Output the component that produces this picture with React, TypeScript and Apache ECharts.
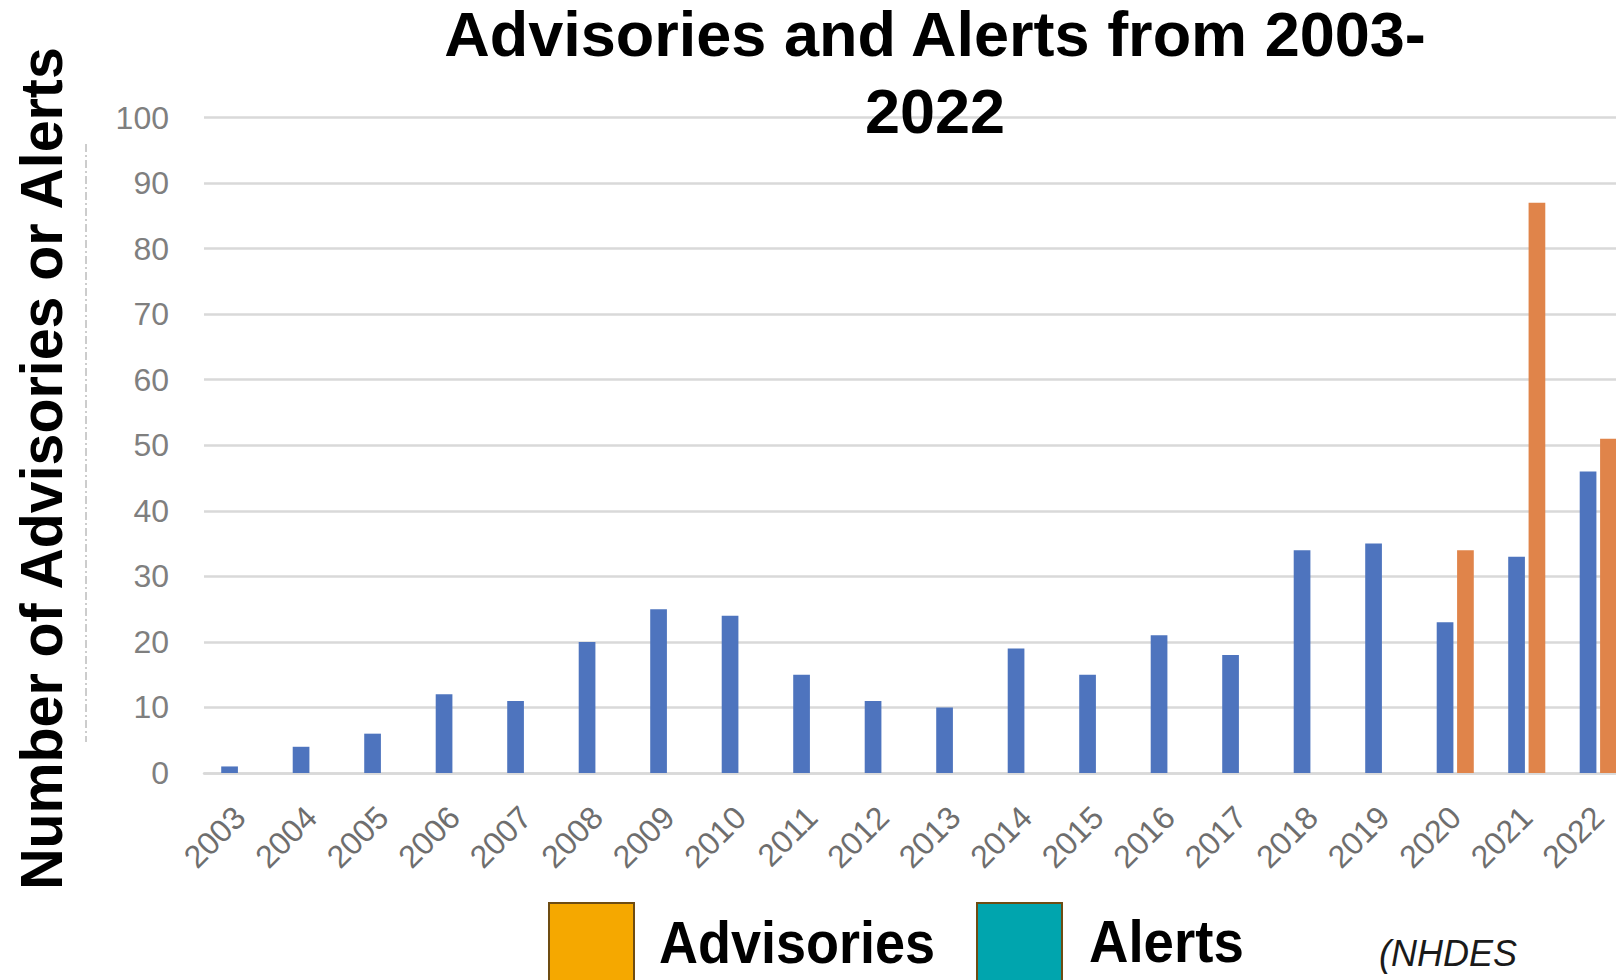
import React, { useEffect, useRef } from "react";
import * as echarts from "echarts";

const years = ["2003","2004","2005","2006","2007","2008","2009","2010","2011","2012","2013","2014","2015","2016","2017","2018","2019","2020","2021","2022"];
const advisories = [1, 4, 6, 12, 11, 20, 25, 24, 15, 11, 10, 19, 15, 21, 18, 34, 35, 23, 33, 46];
const alerts = [null, null, null, null, null, null, null, null, null, null, null, null, null, null, null, null, null, 34, 87, 51];
const yTicks = { min: 0, max: 100, interval: 10 };
const titleLines = ["Advisories and Alerts from 2003-", "2022"];
const yTitle = "Number of Advisories or Alerts";
const legendItems = ["Advisories", "Alerts"];
const sourceNote = "(NHDES";

const FONT = "'Liberation Sans', Arial, sans-serif";

export default function App() {
  const ref = useRef<HTMLDivElement>(null);
  useEffect(() => {
    if (!ref.current) return;
    const chart = echarts.init(ref.current, null, { renderer: "svg" });
    const textEl = (text: string, x: number, y: number, size: number, opts: any = {}) => ({
      type: "text",
      x,
      y,
      rotation: opts.rotation || 0,
      scaleX: opts.scaleX || 1,
      scaleY: 1,
      z: 100,
      style: {
        text,
        fontSize: size,
        fontWeight: opts.weight || "bold",
        fontStyle: opts.style || "normal",
        fontFamily: FONT,
        fill: opts.color || "#000",
        align: opts.align || "center",
        verticalAlign: "middle",
      },
    });
    chart.setOption({
      animation: false,
      backgroundColor: "#fff",
      grid: { left: 204, top: 117.5, width: 1430, height: 655.5, containLabel: false },
      xAxis: {
        type: "category",
        data: years,
        axisLine: { show: true, lineStyle: { color: "#d9d9d9", width: 2.5 } },
        axisTick: { show: false },
        axisLabel: {
          rotate: 45,
          interval: 0,
          margin: 39,
          fontSize: 32,
          fontFamily: FONT,
          color: "#6e6e6e",
        },
      },
      yAxis: {
        type: "value",
        min: yTicks.min,
        max: yTicks.max,
        interval: yTicks.interval,
        axisLine: { show: false },
        axisTick: { show: false },
        splitLine: { show: true, lineStyle: { color: "#d9d9d9", width: 2.5 } },
        axisLabel: { fontSize: 32, fontFamily: FONT, color: "#7f7f7f", margin: 35 },
      },
      series: [
        {
          name: legendItems[0],
          type: "bar",
          data: advisories,
          barWidth: 16.7,
          barGap: "22%",
          itemStyle: { color: "#4e74be" },
        },
        {
          name: legendItems[1],
          type: "bar",
          data: alerts,
          barWidth: 16.7,
          itemStyle: { color: "#e0844a" },
        },
      ],
      graphic: [
        textEl(titleLines[0], 935, 33.7, 63),
        textEl(titleLines[1], 935, 110.7, 63),
        textEl(yTitle, 41.5, 468.5, 60, { rotation: Math.PI / 2, scaleX: 0.955 }),
        {
          type: "line",
          shape: { x1: 86, y1: 144, x2: 86, y2: 742 },
          style: { stroke: "#9a9a9a", lineWidth: 1, lineDash: [8, 3, 2, 3] },
        },
        {
          type: "rect",
          shape: { x: 549, y: 903, width: 85, height: 90 },
          style: { fill: "#f5a800", stroke: "#6e4c12", lineWidth: 2 },
        },
        {
          type: "rect",
          shape: { x: 977, y: 903, width: 85, height: 90 },
          style: { fill: "#00a5ae", stroke: "#6e4c12", lineWidth: 2 },
        },
        textEl(legendItems[0], 659, 941.5, 60, { align: "left", scaleX: 0.9 }),
        textEl(legendItems[1], 1089, 941.5, 60, { align: "left", scaleX: 0.91 }),
        textEl(sourceNote, 1379, 953, 36, { align: "left", weight: "normal", style: "italic", color: "#1a1a1a" }),
      ],
    });
    return () => chart.dispose();
  }, []);
  return (
    <div style={{ position: "fixed", left: 0, top: 0, width: 1616, height: 980, overflow: "hidden", background: "#fff" }}>
      <div ref={ref} style={{ width: 1660, height: 980 }} />
    </div>
  );
}
